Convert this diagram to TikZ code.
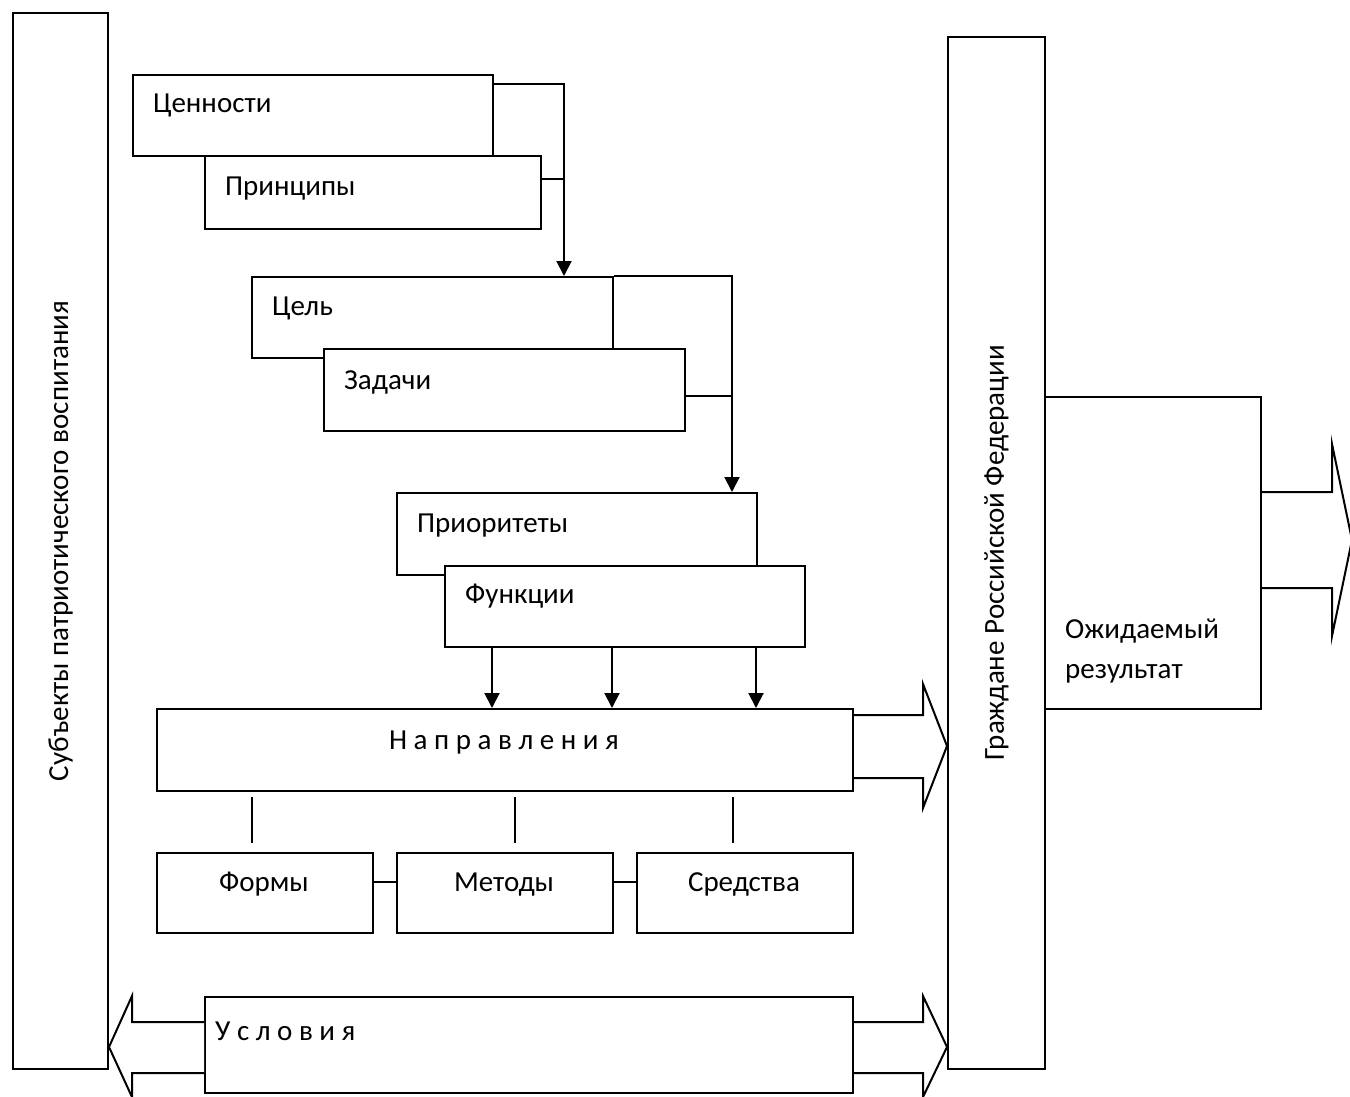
\documentclass[tikz,border=0pt]{standalone}
\usepackage{fontspec}
\setmainfont{Carlito}
\usetikzlibrary{arrows.meta}
\tikzstyle{box} = [draw,fill=white,line width=2pt,rectangle,anchor=north west,inner sep=0pt]
\tikzstyle{conn} = [line width=2pt]
\tikzstyle{arr} = [line width=2pt,-{Triangle[width=15pt,length=15pt]}]
\tikzstyle{txt} = [anchor=base west,inner sep=0pt]
\tikzstyle{fat} = [draw,fill=white,line width=2pt,line join=miter]

\begin{document}
\begin{tikzpicture}[x=1pt,y=-1pt,font=\fontsize{29}{40}\selectfont]
    \useasboundingbox (0,0) rectangle (1350,1097);
    % side columns
    \node[box,minimum width=95pt,minimum height=1056pt] (subj) at (12,12) {};
    \node[rotate=90] (subjt) at (subj.center) {Субъекты патриотического воспитания};
    \node[box,minimum width=97pt,minimum height=1032pt] (grazh) at (947,36) {};
    \node[rotate=90] (grazht) at (grazh.center) {Граждане Российской Федерации};
    \node[box,minimum width=216pt,minimum height=312pt] (ozh) at (1044,396) {};
    \node[txt,align=left] (ozht) at (1065,678) {Ожидаемый\\результат};

    % values, principles
    \node[box,minimum width=360pt,minimum height=81pt] (cen) at (132,74) {};
    \node[txt] (cent) at (153,113) {Ценности};
    \node[box,minimum width=336pt,minimum height=73pt] (pri) at (204,155) {};
    \node[txt] (prit) at (225,195) {Принципы};
    \draw[arr] (cen.east |- 0,84) -| (564,276);
    \draw[conn] (pri.east |- 0,179) -- (564,179);

    % goal, tasks
    \node[box,minimum width=361pt,minimum height=81pt] (cel) at (251,276) {};
    \node[txt] (celt) at (272,315) {Цель};
    \node[box,minimum width=361pt,minimum height=82pt] (zad) at (323,348) {};
    \node[txt] (zadt) at (344,389) {Задачи};
    \draw[arr] (cel.north east) -| (732,492);
    \draw[conn] (zad.east |- 0,396) -- (732,396);

    % priorities, functions
    \node[box,minimum width=360pt,minimum height=82pt] (pio) at (396,492) {};
    \node[txt] (piot) at (417,532) {Приоритеты};
    \node[box,minimum width=360pt,minimum height=81pt] (fun) at (444,565) {};
    \node[txt] (funt) at (465,603) {Функции};

    % directions
    \node[box,minimum width=696pt,minimum height=82pt] (nap) at (156,708) {};
    \node[anchor=base,inner sep=0pt] (napt) at (504,749) {Н а п р а в л е н и я};
    \foreach \x in {492,612,756}
        \draw[arr] (fun.south -| \x,0) -- (nap.north -| \x,0);
    \draw[fat] (nap.east |- 0,715) -- (923,715) -- (923,684) -- (grazh.west |- 0,746)
        -- (923,808) -- (923,778) -- (nap.east |- 0,778);

    % forms, methods, means
    \node[box,minimum width=216pt,minimum height=80pt] (form) at (156,852) {};
    \node[anchor=base,inner sep=0pt] (formt) at (264,891) {Формы};
    \node[box,minimum width=216pt,minimum height=80pt] (met) at (396,852) {};
    \node[anchor=base,inner sep=0pt] (mett) at (504,891) {Методы};
    \node[box,minimum width=216pt,minimum height=80pt] (sred) at (636,852) {};
    \node[anchor=base,inner sep=0pt] (sredt) at (744,891) {Средства};
    \foreach \x/\b in {252/form,515/met,733/sred}
        \draw[conn,shorten <=5pt,shorten >=9pt] (nap.south -| \x,0) -- (\b.north -| \x,0);
    \draw[conn] (form.east |- 0,882) -- (met.west |- 0,882);
    \draw[conn] (met.east |- 0,882) -- (sred.west |- 0,882);

    % conditions
    \node[box,minimum width=648pt,minimum height=96pt] (usl) at (204,996) {};
    \node[txt] (uslt) at (215,1040) {У с л о в и я};
    \draw[fat] (usl.west |- 0,1022) -- (132,1022) -- (132,996) -- (subj.east |- 0,1047)
        -- (132,1097) -- (132,1073) -- (usl.west |- 0,1073);
    \draw[fat] (usl.east |- 0,1022) -- (923,1022) -- (923,996) -- (grazh.west |- 0,1047)
        -- (923,1097) -- (923,1073) -- (usl.east |- 0,1073);

    % result
    \draw[fat] (ozh.east |- 0,492) -- (1332,492) -- (1332,444) -- (1352,540)
        -- (1332,636) -- (1332,588) -- (ozh.east |- 0,588);
\end{tikzpicture}
\end{document}
